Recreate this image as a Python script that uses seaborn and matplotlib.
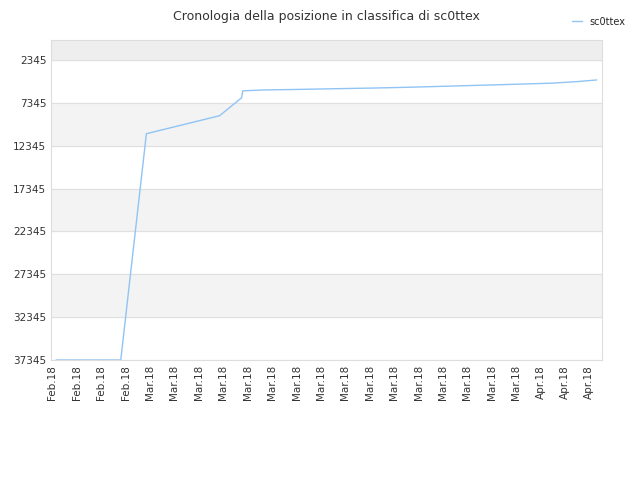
import matplotlib
matplotlib.use("Agg")
import matplotlib.pyplot as plt
import seaborn as sns
import pandas as pd

tick_labels = ["Feb.18"]*4 + ["Mar.18"]*16 + ["Apr.18"]*3
pos_x = [0.15, 2.8, 3.85, 6.85, 7.75, 7.8, 8.6, 10.1, 11.6, 13.2, 14.6, 16.0, 17.5, 19.0, 20.5, 21.5, 22.3]
rank = [37345, 37345, 10950, 8850, 6760, 5950, 5850, 5780, 5700, 5620, 5530, 5420, 5300, 5180, 5050, 4870, 4680]
df = pd.DataFrame({"x": pos_x, "rank": rank})

sns.set_style("white")
plt.rcParams['font.family'] = ['DejaVu Sans']
fig, ax = plt.subplots(figsize=(6.4, 4.8), dpi=100)
fig.subplots_adjust(left=0.08, right=0.94, top=0.917, bottom=0.25)

yt = [2345 + 5000*i for i in range(8)]
ax.axhspan(0, 2345, color="#eeeeee", zorder=0)
for i in range(7):
    if i % 2 == 1:
        ax.axhspan(yt[i], yt[i+1], color="#f3f3f3", zorder=0)
for y in yt:
    ax.axhline(y, color="#e0e0e0", lw=0.8, zorder=0)

sns.lineplot(data=df, x="x", y="rank", ax=ax, color="#90c4f4", lw=1, label="sc0ttex")
ax.set_ylim(37345, 0)
ax.set_xlim(-0.05, 22.5)
ax.set_yticks(yt)
ax.set_yticklabels([str(v) for v in yt], fontsize=7.5, color="#333333")
ax.set_xticks(range(23))
ax.set_xticklabels(tick_labels, rotation=90, fontsize=7.5, color="#333333")
ax.set_xlabel(""); ax.set_ylabel("")
for s in ax.spines.values():
    s.set_color("#dddddd")
ax.tick_params(length=0)
ax.set_title("Cronologia della posizione in classifica di sc0ttex", fontsize=9, color="#333333", pad=14)
ax.legend(loc="upper right", bbox_to_anchor=(1.06, 1.1), frameon=False, fontsize=7, handlelength=1)
fig.savefig("out.png")
